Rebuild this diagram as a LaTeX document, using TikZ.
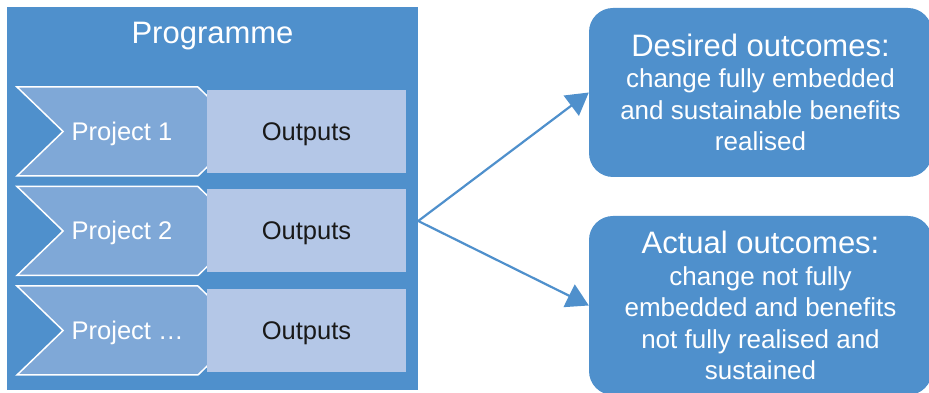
\documentclass[tikz,border=0pt]{standalone}
\usepackage{fontspec}
\setmainfont{Liberation Sans}
\usetikzlibrary{shapes.symbols,arrows.meta,positioning}

\definecolor{progblue}{RGB}{79,144,204}
\definecolor{projblue}{RGB}{127,168,215}
\definecolor{outblue}{RGB}{180,199,231}

\newcommand{\outcomehead}{\fontsize{31}{31.5}\selectfont}

\tikzstyle{progbox} = [rectangle, fill=progblue, minimum width=411pt, minimum height=383pt, inner sep=0pt]
\tikzstyle{progtext} = [text=white, font=\fontsize{31}{36}\selectfont, text height=22pt, text depth=0pt, inner sep=0pt]
\tikzstyle{chevron} = [signal, signal from=west, signal to=east, signal pointer angle=88, fill=projblue, draw=white, line width=1.5pt, minimum width=227pt, minimum height=89pt, inner sep=0pt]
\tikzstyle{projtext} = [text=white, font=\fontsize{25.5}{30}\selectfont, text height=18pt, text depth=0pt, inner sep=0pt, anchor=west]
\tikzstyle{outbox} = [rectangle, fill=outblue, minimum width=199pt, minimum height=83pt, inner sep=0pt, text=black!90, font=\fontsize{25.5}{30}\selectfont, text height=18pt, text depth=0pt]
\tikzstyle{outcome} = [rectangle, rounded corners=24pt, fill=progblue, text=white, minimum width=343pt, align=center, inner sep=0pt, font=\fontsize{26}{31.5}\selectfont]
\tikzstyle{arrow} = [line width=2.2pt, draw=progblue, -{Triangle[length=22pt,width=25pt]}]

\begin{document}
\begin{tikzpicture}[x=1pt, y=1pt, node distance=99.5pt]
    \clip (0,0) rectangle (929,393);

    % programme with its projects
    \node (prog) [progbox] at (212.5,194.5) {};
    \node (progtitle) [progtext] at (212.5,360) {Programme};

    \node (proj1) [chevron] at (130.5,261.5) {};
    \node (proj2) [chevron, below of=proj1] {};
    \node (proj3) [chevron, below of=proj2] {};

    \node (proj1lbl) [projtext] at ([xshift=-59pt]proj1.center) {Project 1};
    \node (proj2lbl) [projtext] at ([xshift=-59pt]proj2.center) {Project 2};
    \node (proj3lbl) [projtext] at ([xshift=-59pt]proj3.center) {Project …};

    \node (out1) [outbox, right of=proj1, xshift=76.5pt] {Outputs};
    \node (out2) [outbox, right of=proj2, xshift=76.5pt] {Outputs};
    \node (out3) [outbox, right of=proj3, xshift=76.5pt] {Outputs};

    % outcomes
    \node (desired) [outcome, minimum height=169pt] at (760.5,300.5) {{\outcomehead Desired outcomes:}\\change fully embedded\\and sustainable benefits\\realised};
    \node (actual) [outcome, minimum height=179pt] at (760.5,87.5) {{\outcomehead Actual outcomes:}\\change not fully\\embedded and benefits\\not fully realised and\\sustained};

    \coordinate (fork) at ([yshift=-22.5pt]prog.east);
    \draw [arrow] (fork) -- (desired.west);
    \draw [arrow] (fork) -- (actual.west);

\end{tikzpicture}
\end{document}
